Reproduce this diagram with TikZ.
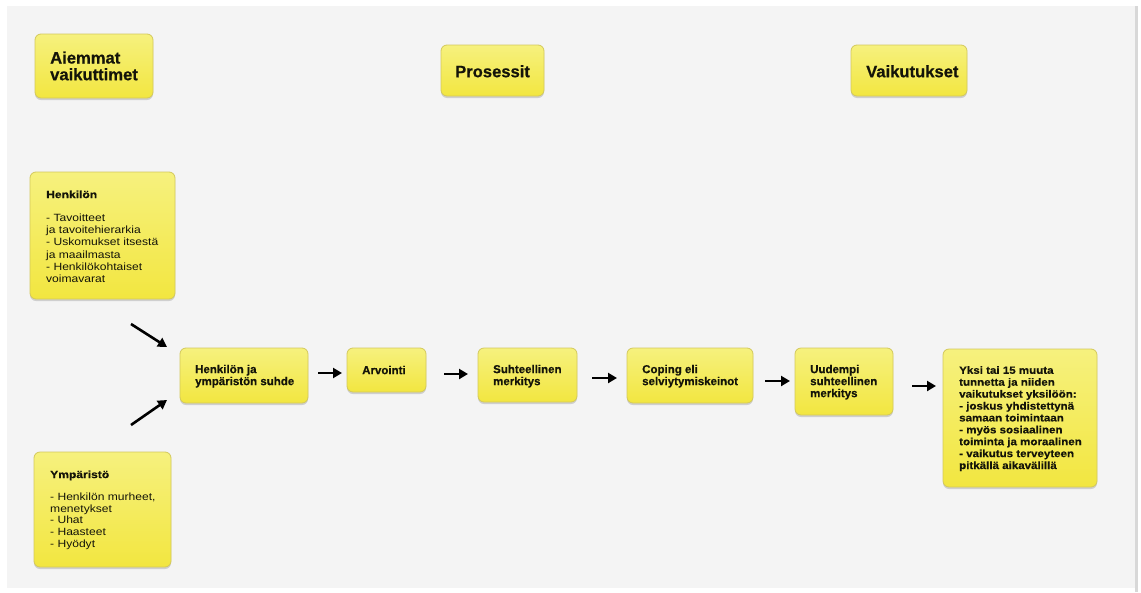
\documentclass[tikz,border=0pt]{standalone}
\usepackage{fontspec}
\setmainfont{Liberation Sans}
\newfontfamily\ftitle[BoldFeatures={FakeBold=0.5}]{Liberation Sans}
\newfontfamily\fbody[FakeStretch=1.15,BoldFeatures={FakeStretch=1.15,FakeBold=0.4}]{Liberation Sans}
\newfontfamily\fbold[FakeStretch=1.1,BoldFeatures={FakeStretch=1.1,FakeBold=0.5}]{Liberation Sans}
\usetikzlibrary{arrows.meta,shadows,calc}
\definecolor{bgc}{HTML}{F4F4F4}
\definecolor{edgec}{HTML}{D8D8D8}
\definecolor{ytop}{HTML}{F6F17E}
\definecolor{ybot}{HTML}{F2E640}
\definecolor{ybord}{HTML}{D3C95C}
\definecolor{txt}{HTML}{141409}
\tikzset{
  ybox/.style={draw=ybord, line width=0.8pt, rounded corners=6pt,
    top color=ytop, bottom color=ybot,
    drop shadow={shadow xshift=0pt, shadow yshift=-2pt, opacity=0.22, fill=black!70},
    inner sep=0pt, outer sep=0pt, anchor=north west},
  titletext/.style={anchor=north west, inner sep=0pt, align=left, text=txt,
    font=\ftitle\bfseries\fontsize{16.6}{16.7}\selectfont},
  proctext/.style={anchor=north west, inner sep=0pt, align=left, text=txt,
    font=\ftitle\bfseries\fontsize{11.5}{12}\selectfont},
  listtext/.style={anchor=north west, inner sep=0pt, align=left, text=txt,
    font=\fbody\fontsize{10.5}{12.3}\selectfont},
  yksitext/.style={anchor=north west, inner sep=0pt, align=left, text=txt,
    font=\fbold\bfseries\fontsize{10.5}{11.9}\selectfont},
  arr/.style={line width=2.6pt, black, -{Triangle[length=9pt,width=10pt]}}
}
\newcommand\ybox[5]{\node[ybox, minimum width={(#4-#2)*1pt}, minimum height={(#5-#3)*1pt}] (#1) at (#2,#3) {};}
\begin{document}
\begin{tikzpicture}[x=1pt,y=-1pt]
\fill[white] (0,0) rectangle (1141,592);
\fill[bgc] (7,6) rectangle (1135,588);
\fill[edgec] (1135,6) rectangle (1138,592);
\useasboundingbox (0,0) rectangle (1141,592);

% header boxes
\ybox{aiem}{35}{34}{153}{98}
\ybox{pros}{441}{45}{544}{96}
\ybox{vaik}{851}{45}{967}{96}
\node[titletext] (aiemT) at (50,51.3) {Aiemmat\\vaikuttimet};
\node[titletext] (prosT) at (455,65) {Prosessit};
\node[titletext] (vaikT) at (866,65) {Vaikutukset};

% left boxes
\ybox{henk}{30}{172}{175}{299}
\node[listtext] (henkT) at (46,190.3) {\bfseries Henkilön\\[10.7pt]- Tavoitteet\\ja tavoitehierarkia\\- Uskomukset itsestä\\ja maailmasta\\- Henkilökohtaiset\\voimavarat};
\ybox{ymp}{34}{452}{171}{567}
\node[listtext, font=\fbody\fontsize{10.5}{11.6}\selectfont] (ympT) at (50,470.3) {\bfseries Ympäristö\\[11pt]- Henkilön murheet,\\menetykset\\- Uhat\\- Haasteet\\- Hyödyt};

% process boxes
\ybox{suhde}{180}{348}{308}{403}
\node[proctext] (suhdeT) at (195,364.6) {Henkilön ja\\ympäristön suhde};
\ybox{arv}{347}{348}{426}{392}
\node[proctext] (arvT) at (362,365.6) {Arvointi};
\ybox{suht}{478}{348}{577}{402}
\node[proctext] (suhtT) at (493,364.6) {Suhteellinen\\merkitys};
\ybox{cop}{627}{348}{753}{403}
\node[proctext] (copT) at (642,364.6) {Coping eli\\selviytymiskeinot};
\ybox{uud}{795}{348}{893}{415}
\node[proctext] (uudT) at (810,364.6) {Uudempi\\suhteellinen\\merkitys};
\ybox{yksi}{943}{349}{1097}{487}
\node[yksitext] (yksiT) at (959,366) {Yksi tai 15 muuta\\tunnetta ja niiden\\vaikutukset yksilöön:\\- joskus yhdistettynä\\samaan toimintaan\\- myös sosiaalinen\\toiminta ja moraalinen\\- vaikutus terveyteen\\pitkällä aikavälillä};

% diagonal arrows
\coordinate (d1s) at (131,324);
\coordinate (d1e) at (167,347);
\coordinate (d2s) at (131,425);
\coordinate (d2e) at (167,400);
\draw[arr] (d1s) -- (d1e);
\draw[arr] (d2s) -- (d2e);

% horizontal arrows
\draw[arr] ($(suhde.north east)+(10,25)$) -- ($(arv.north west)+(-5,25)$);
\draw[arr] ($(arv.north east)+(18,26)$) -- ($(suht.north west)+(-10,26)$);
\draw[arr] ($(suht.north east)+(15,30)$) -- ($(cop.north west)+(-10,30)$);
\draw[arr] ($(cop.north east)+(12,33)$) -- ($(uud.north west)+(-5,33)$);
\draw[arr] ($(uud.north east)+(19,38)$) -- ($(yksi.north west)+(-7,37)$);
\end{tikzpicture}
\end{document}
